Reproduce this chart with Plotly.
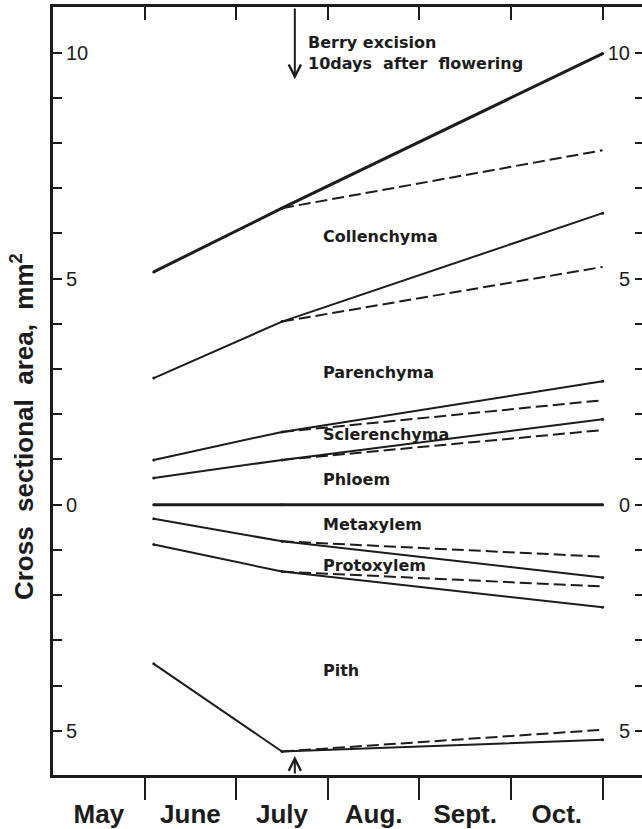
import plotly.graph_objects as go

# ---------------- data ----------------
months = ["May", "June", "July", "Aug.", "Sept.", "Oct."]
month_centers = [0.5, 1.5, 2.5, 3.5, 4.5, 5.5]
month_bounds = [1, 2, 3, 4, 5, 6]

x_ctrl = [1.1, 2.5, 6.0]      # sampling dates (months after 1 May)
x_exc = [2.5, 6.0]            # after berry excision

# cumulative tissue boundaries (mm²); above 0 = outer tissues, below 0 = xylem/pith
top_ctrl = [5.15, 6.56, 9.98]
top_exc = [6.56, 7.84]
coll_ctrl = [2.80, 4.05, 6.45]
coll_exc = [4.05, 5.26]
par_ctrl = [0.99, 1.61, 2.73]
par_exc = [1.61, 2.31]
scl_ctrl = [0.59, 0.99, 1.89]
scl_exc = [0.99, 1.65]
phl_ctrl = [0.0, 0.0, 0.0]
meta_ctrl = [-0.31, -0.81, -1.61]
meta_exc = [-0.81, -1.15]
proto_ctrl = [-0.88, -1.48, -2.27]
proto_exc = [-1.48, -1.81]
pith_ctrl = [-3.52, -5.46, -5.20]
pith_exc = [-5.46, -4.98]

tissue_names = ["Collenchyma", "Parenchyma", "Sclerenchyma", "Phloem",
                "Metaxylem", "Protoxylem", "Pith"]
tissue_label_y = [5.93, 2.92, 1.56, 0.55, -0.44, -1.34, -3.67]

y_tick_vals = list(range(-5, 11))
y_tick_text = [str(abs(v)) if v % 5 == 0 else "" for v in y_tick_vals]

excision_x = 2.64

# ---------------- style ----------------
INK = "#1c1c1c"
LAB_FONT = dict(family="DejaVu Sans", size=16, color=INK, weight="bold")
XR = [0, 6.43]
YR = [-5.98, 11.01]

fig = go.Figure()

solid = [(top_ctrl, 3), (coll_ctrl, 2), (par_ctrl, 2), (scl_ctrl, 2),
         (meta_ctrl, 2), (proto_ctrl, 2), (pith_ctrl, 2)]
for ys, w in solid:
    fig.add_trace(go.Scatter(x=x_ctrl, y=ys, mode="lines+markers",
                             line=dict(color=INK, width=w),
                             marker=dict(size=3, color=INK),
                             showlegend=False, hoverinfo="skip"))

# zero line (phloem/xylem boundary) drawn on the mirrored top/right axes
# (same ranges) so that those axes are rendered
fig.add_trace(go.Scatter(x=x_ctrl, y=phl_ctrl, mode="lines+markers",
                         xaxis="x2", yaxis="y2",
                         line=dict(color=INK, width=3),
                         marker=dict(size=3, color=INK),
                         showlegend=False, hoverinfo="skip"))

dashed = [top_exc, coll_exc, par_exc, scl_exc, meta_exc, proto_exc, pith_exc]
for ys in dashed:
    fig.add_trace(go.Scatter(x=x_exc, y=ys, mode="lines",
                             line=dict(color=INK, width=2, dash="12px,5px"),
                             showlegend=False, hoverinfo="skip"))

annotations = []
for name, yy in zip(tissue_names, tissue_label_y):
    annotations.append(dict(x=2.93, y=yy, xref="x", yref="y", text=name,
                            showarrow=False, xanchor="left", yanchor="middle",
                            font=LAB_FONT))

annotations.append(dict(x=2.76, y=10.0, xref="x", yref="y",
                        text="Berry\u00a0excision<br>10days\u00a0\u00a0after\u00a0\u00a0flowering",
                        showarrow=False, xanchor="left", yanchor="middle",
                        align="left", font=LAB_FONT))

# arrows marking berry excision
annotations.append(dict(x=excision_x, y=9.41, ax=excision_x, ay=YR[1],
                        xref="x", yref="y", axref="x", ayref="y", text="",
                        showarrow=True, arrowhead=5, arrowwidth=2,
                        arrowsize=1.2, arrowcolor=INK))
annotations.append(dict(x=excision_x, y=-5.56, ax=excision_x, ay=YR[0],
                        xref="x", yref="y", axref="x", ayref="y", text="",
                        showarrow=True, arrowhead=5, arrowwidth=2,
                        arrowsize=1.2, arrowcolor=INK))

# y-axis title
annotations.append(dict(x=-31 / 589, y=0.453, xref="paper", yref="paper",
                        text="Cross\u00a0\u00a0sectional\u00a0\u00a0area,\u00a0\u00a0mm<sup>2</sup>",
                        textangle=-90, showarrow=False,
                        xanchor="center", yanchor="middle",
                        font=dict(family="Liberation Sans", size=26,
                                  color=INK, weight="bold")))

fig.update_layout(
    width=642, height=829,
    margin=dict(l=53, r=0, t=7, b=49),
    paper_bgcolor="white", plot_bgcolor="white",
    showlegend=False,
    annotations=annotations,
    xaxis=dict(range=XR, showgrid=False, zeroline=False,
               showline=True, linewidth=3, linecolor=INK,
               tickmode="array", tickvals=month_centers, ticktext=months,
               ticks="", ticklabelstandoff=14,
               tickfont=dict(family="Liberation Sans", size=26,
                             color=INK, weight="bold"),
               minor=dict(tickmode="array", tickvals=month_bounds,
                          ticks="outside", ticklen=22, tickwidth=2,
                          tickcolor=INK, showgrid=False)),
    xaxis2=dict(range=XR, overlaying="x", side="top", anchor="y2",
                showgrid=False, zeroline=False,
                showline=True, linewidth=3, linecolor=INK,
                tickmode="array", tickvals=month_bounds,
                ticks="inside", ticklen=13, tickwidth=2, tickcolor=INK,
                showticklabels=False),
    yaxis=dict(range=YR, showgrid=False, zeroline=False,
               showline=True, linewidth=3, linecolor=INK,
               tickmode="array", tickvals=y_tick_vals, ticktext=y_tick_text,
               ticks="inside", ticklen=9, tickwidth=2, tickcolor=INK,
               ticklabelposition="inside", ticklabelstandoff=5,
               tickfont=dict(family="Liberation Sans", size=20, color=INK)),
    yaxis2=dict(range=YR, overlaying="y", side="right", anchor="x2",
                showgrid=False, zeroline=False, showline=False,
                tickmode="array", tickvals=y_tick_vals, ticktext=y_tick_text,
                ticks="inside", ticklen=7, tickwidth=2, tickcolor=INK,
                ticklabelposition="inside", ticklabelstandoff=6,
                tickfont=dict(family="Liberation Sans", size=20, color=INK)),
)

fig.write_html("out.html",
               config={"displayModeBar": False, "staticPlot": True},
               post_script="document.body.style.margin='0';"
                           "document.body.style.overflow='hidden';")
